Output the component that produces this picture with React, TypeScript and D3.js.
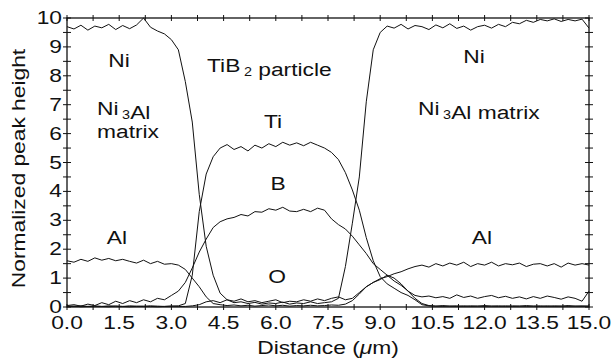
import React from 'react';
import * as d3 from 'd3';

// distance along the line scan (um)
const distance = [
  0.0, 0.2, 0.4, 0.6, 0.8, 1.0, 1.2, 1.4, 1.6, 1.8,
  2.0, 2.2, 2.4, 2.6, 2.8, 3.0, 3.2, 3.4, 3.6, 3.8,
  4.0, 4.2, 4.4, 4.6, 4.8, 5.0, 5.2, 5.4, 5.6, 5.8,
  6.0, 6.2, 6.4, 6.6, 6.8, 7.0, 7.2, 7.4, 7.6, 7.8,
  8.0, 8.2, 8.4, 8.6, 8.8, 9.0, 9.2, 9.4, 9.6, 9.8,
  10.0, 10.2, 10.4, 10.6, 10.8, 11.0, 11.2, 11.4, 11.6, 11.8,
  12.0, 12.2, 12.4, 12.6, 12.8, 13.0, 13.2, 13.4, 13.6, 13.8,
  14.0, 14.2, 14.4, 14.6, 14.8, 15.0
];

const ni = [
  9.70, 9.62, 9.75, 9.58, 9.72, 9.66, 9.78, 9.60, 9.74, 9.63,
  9.76, 10.0, 9.68, 9.55, 9.45, 9.25, 8.9, 7.8, 6.4, 3.9,
  2.1, 1.1, 0.48, 0.25, 0.15, 0.18, 0.12, 0.16, 0.10, 0.14,
  0.12, 0.17, 0.10, 0.14, 0.12, 0.18, 0.12, 0.15, 0.18, 0.3,
  1.4, 2.9, 4.5, 7.1, 8.9, 9.5, 9.72, 9.65, 9.78, 9.62,
  9.74, 9.70, 9.60, 9.76, 9.66, 9.80, 9.64, 9.72, 9.58, 9.70,
  9.75, 9.65, 9.78, 9.70, 9.85, 9.80, 9.92, 9.85, 9.95, 9.90,
  9.97, 9.88, 9.95, 9.90, 9.96, 9.65
];

const ti = [
  0.03, 0.02, 0.04, 0.02, 0.03, 0.02, 0.04, 0.03, 0.02, 0.04,
  0.03, 0.02, 0.04, 0.03, 0.02, 0.03, 0.04, 0.12, 1.1, 3.3,
  4.6, 5.2, 5.5, 5.62, 5.45, 5.55, 5.4, 5.6, 5.5, 5.65,
  5.55, 5.7, 5.6, 5.68, 5.58, 5.7, 5.6, 5.5, 5.35, 5.1,
  4.65, 4.05, 3.35, 2.4, 1.6, 1.05, 0.8, 0.65, 0.5, 0.4,
  0.25, 0.08, 0.04, 0.03, 0.05, 0.03, 0.04, 0.02, 0.04, 0.03,
  0.05, 0.03, 0.04, 0.02, 0.04, 0.03, 0.05, 0.03, 0.04, 0.02,
  0.04, 0.03, 0.05, 0.03, 0.04, 0.03
];

const b = [
  0.05, 0.08, 0.03, 0.1, 0.05, 0.15, 0.08, 0.2, 0.12, 0.22,
  0.15, 0.25, 0.18, 0.3, 0.25, 0.4, 0.55, 0.85, 1.35, 1.9,
  2.35, 2.75, 2.95, 3.05, 3.1, 3.2, 3.15, 3.3, 3.28, 3.4,
  3.35, 3.45, 3.32, 3.3, 3.38, 3.3, 3.42, 3.35, 3.05, 2.85,
  2.7, 2.45, 2.15, 1.85, 1.5, 1.3, 1.1, 0.9, 0.75, 0.55,
  0.4, 0.35, 0.38, 0.32, 0.36, 0.3, 0.42, 0.33, 0.38, 0.3,
  0.36, 0.4, 0.32, 0.37, 0.3, 0.35, 0.28, 0.36, 0.3, 0.38,
  0.33, 0.27, 0.35, 0.3, 0.2, 0.55
];

const al = [
  1.6, 1.55, 1.65, 1.58, 1.7, 1.62, 1.68, 1.6, 1.65, 1.58,
  1.52, 1.62, 1.5, 1.58, 1.48, 1.5, 1.45, 1.3, 1.0, 0.7,
  0.35, 0.12, 0.08, 0.05, 0.07, 0.04, 0.06, 0.03, 0.05, 0.07,
  0.04, 0.06, 0.03, 0.05, 0.04, 0.06, 0.04, 0.05, 0.07, 0.06,
  0.1, 0.22, 0.45, 0.7, 0.85, 0.98, 1.05, 1.15, 1.22, 1.32,
  1.4, 1.45, 1.38, 1.5, 1.42, 1.52, 1.45, 1.55, 1.4, 1.5,
  1.45, 1.55, 1.42, 1.5, 1.46, 1.52, 1.4, 1.48, 1.5, 1.42,
  1.5, 1.38, 1.52, 1.45, 1.5, 1.45
];

const o = [
  0.02, 0.03, 0.01, 0.02, 0.03, 0.02, 0.01, 0.03, 0.02, 0.01,
  0.02, 0.03, 0.02, 0.01, 0.02, 0.03, 0.02, 0.02, 0.04, 0.08,
  0.18, 0.22, 0.15, 0.25, 0.2, 0.28, 0.18, 0.22, 0.15, 0.2,
  0.25, 0.15, 0.2, 0.18, 0.25, 0.2, 0.28, 0.22, 0.3, 0.35,
  0.25, 0.3, 0.5, 0.7, 0.85, 0.95, 1.1, 1.0, 0.8, 0.55,
  0.3, 0.12, 0.05, 0.03, 0.02, 0.03, 0.02, 0.04, 0.02, 0.03,
  0.02, 0.03, 0.02, 0.04, 0.02, 0.03, 0.02, 0.03, 0.02, 0.04,
  0.02, 0.03, 0.02, 0.03, 0.02, 0.03
];

const xTickLabels = ['0.0', '1.5', '3.0', '4.5', '6.0', '7.5', '9.0', '10.5', '12.0', '13.5', '15.0'];
const yTickLabels = ['0', '1', '2', '3', '4', '5', '6', '7', '8', '9', '10'];

const W = 616;
const H = 361;
const margin = { top: 18, right: 27, bottom: 54, left: 67 };
const FONT = '"Liberation Sans", Arial, Helvetica, sans-serif';
const FS = 19;
const SX = 1.2; // the original lettering is wide

const x = d3.scaleLinear().domain([0, 15]).range([margin.left, W - margin.right]);
const y = d3.scaleLinear().domain([0, 10]).range([H - margin.bottom, margin.top]);

const line = d3
  .line<number>()
  .x((d, i) => x(distance[i]))
  .y(d => y(d));

const Label = ({ tx, ty, anchor = 'start', children }: any) => (
  <text
    transform={`translate(${tx},${ty}) scale(${SX},1)`}
    textAnchor={anchor}
    fontFamily={FONT}
    fontSize={FS}
    fill="#111"
  >
    {children}
  </text>
);

const Sub = ({ c }: { c: string }) => (
  <>
    <tspan dx={3} dy={4} fontSize={12}>{c}</tspan>
    <tspan dy={-4}>{''}</tspan>
  </>
);

export default function App() {
  const x0 = x(0), x1 = x(15), y0 = y(0), y1 = y(10);
  const xMinor = d3.range(0, 15.001, 0.75);
  const yMinor = d3.range(0, 10.001, 0.5);

  return (
    <svg width={W} height={H} style={{ position: 'absolute', left: 0, top: 0, background: '#fff' }}>
      <rect x={0} y={0} width={W} height={H} fill="#fff" />

      {/* frame */}
      <rect x={x0} y={y1} width={x1 - x0} height={y0 - y1} fill="none" stroke="#111" strokeWidth={1.3} />

      {/* ticks, crossing every side */}
      <g stroke="#111" strokeWidth={1}>
        {xMinor.map(v => (
          <g key={'xt' + v}>
            <line x1={x(v)} x2={x(v)} y1={y0 - 3} y2={y0 + 3} />
            <line x1={x(v)} x2={x(v)} y1={y1 - 3} y2={y1 + 3} />
          </g>
        ))}
        {yMinor.map(v => (
          <g key={'yt' + v}>
            <line x1={x0 - 4} x2={x0 + 4} y1={y(v)} y2={y(v)} />
            <line x1={x1 - 4} x2={x1 + 4} y1={y(v)} y2={y(v)} />
          </g>
        ))}
      </g>

      {/* tick labels */}
      {xTickLabels.map(t => (
        <Label key={'xl' + t} tx={x(+t)} ty={y0 + 22} anchor="middle">{t}</Label>
      ))}
      {yTickLabels.map(t => (
        <Label key={'yl' + t} tx={x0 - 5} ty={y(+t) + 6} anchor="end">{t}</Label>
      ))}

      {/* axis titles */}
      <Label tx={(x0 + x1) / 2} ty={354} anchor="middle">
        Distance (<tspan fontStyle="italic">μ</tspan>m)
      </Label>
      <text
        transform={`translate(25,${(y0 + y1) / 2 + 6}) rotate(-90) scale(${SX},1)`}
        textAnchor="middle"
        fontFamily={FONT}
        fontSize={FS}
        fill="#111"
      >
        Normalized peak height
      </text>

      {/* profiles */}
      <g fill="none" stroke="#111" strokeWidth={1} strokeLinejoin="round">
        <path d={line(ni) ?? ''} />
        <path d={line(ti) ?? ''} />
        <path d={line(b) ?? ''} />
        <path d={line(al) ?? ''} />
        <path d={line(o) ?? ''} />
      </g>

      {/* annotations */}
      <Label tx={119} ty={67} anchor="middle">Ni</Label>
      <Label tx={97} ty={115}>Ni<Sub c="3" />Al</Label>
      <Label tx={97} ty={138}>matrix</Label>
      <Label tx={207} ty={72}>TiB<Sub c="2" /> particle</Label>
      <Label tx={273} ty={128} anchor="middle">Ti</Label>
      <Label tx={278} ty={190} anchor="middle">B</Label>
      <Label tx={277} ty={283} anchor="middle">O</Label>
      <Label tx={117} ty={244} anchor="middle">Al</Label>
      <Label tx={482} ty={244} anchor="middle">Al</Label>
      <Label tx={474} ty={63} anchor="middle">Ni</Label>
      <Label tx={418} ty={115}>Ni<Sub c="3" />Al matrix</Label>
    </svg>
  );
}
